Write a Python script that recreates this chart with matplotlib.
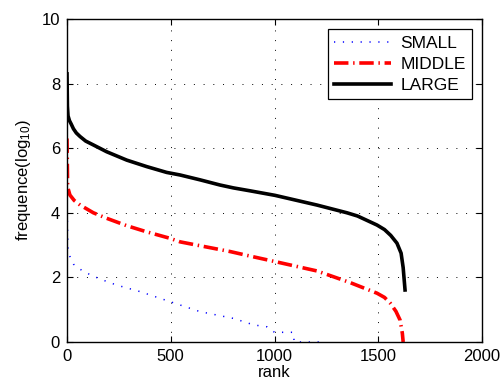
import matplotlib
matplotlib.use("Agg")
import matplotlib.pyplot as plt

plt.rcParams['font.family'] = ['Liberation Sans', 'DejaVu Sans']
plt.rcParams['mathtext.default'] = 'regular'

large_rank = [0, 2, 5, 12, 20, 31, 45, 63, 90, 127, 191, 288, 384, 480, 545, 641, 737,
              802, 882, 1002, 1204, 1349, 1400, 1494, 1530, 1560, 1590, 1610, 1620, 1629]
large_val = [8.3, 7.3, 7.0, 6.85, 6.75, 6.6, 6.47, 6.36, 6.22, 6.1, 5.89, 5.63, 5.43,
             5.25, 5.17, 5.02, 4.86, 4.77, 4.68, 4.54, 4.24, 4.0, 3.9, 3.62, 3.48, 3.3,
             3.06, 2.75, 2.3, 1.61]

middle_rank = [0, 3, 14, 35, 63, 127, 191, 288, 384, 496, 545, 641, 786, 882, 1002, 1204,
               1364, 1494, 1530, 1558, 1585, 1605, 1616, 1620]
middle_val = [6.3, 4.8, 4.55, 4.38, 4.24, 4.0, 3.83, 3.6, 3.41, 3.21, 3.1, 2.98, 2.8,
              2.66, 2.49, 2.2, 1.84, 1.51, 1.38, 1.2, 0.95, 0.68, 0.27, 0.0]

small_rank = [0, 5, 14, 31, 79, 159, 240, 352, 496, 641, 802, 866, 898, 964, 1000,
              1090, 1095, 1240]
small_val = [4.3, 2.85, 2.65, 2.41, 2.18, 1.95, 1.76, 1.56, 1.25, 0.94, 0.73, 0.6,
             0.53, 0.47, 0.30, 0.30, 0.0, 0.0]

x_ticks = [0, 500, 1000, 1500, 2000]
y_ticks = [0, 2, 4, 6, 8, 10]

fig = plt.figure(figsize=(5.03, 3.87), dpi=100)
ax = fig.add_axes([0.1332, 0.1163, 0.8251, 0.8347])

ax.plot(small_rank, small_val, color='blue', lw=1.1, linestyle=(0, (0.8, 5)),
        label='SMALL')
ax.plot(middle_rank, middle_val, color='red', lw=2.6, linestyle=(0, (4, 1.3, 0.4, 1.3)),
        label='MIDDLE')
ax.plot(large_rank, large_val, color='black', lw=2.6, linestyle='-', label='LARGE')

ax.set_xlim(0, 2000)
ax.set_ylim(0, 10)
ax.set_xticks(x_ticks)
ax.set_yticks(y_ticks)
ax.tick_params(direction='in', top=True, right=True, length=4, width=0.8,
               labelsize=12, pad=5)
ax.grid(True, color='black', linestyle=(0, (1, 9)), linewidth=0.7)
for s in ax.spines.values():
    s.set_linewidth(1.0)

ax.set_xlabel('rank', fontsize=12, labelpad=1)
ax.set_ylabel('frequence(log$_{10}$)', fontsize=12, labelpad=6)

leg = ax.legend(loc='upper right', fontsize=12.5, fancybox=False, framealpha=1,
                edgecolor='black', borderaxespad=0.6, handlelength=3.3,
                labelspacing=0.35, borderpad=0.35, handletextpad=0.5)
leg.get_frame().set_linewidth(0.9)

fig.savefig('out.png', dpi=100)
